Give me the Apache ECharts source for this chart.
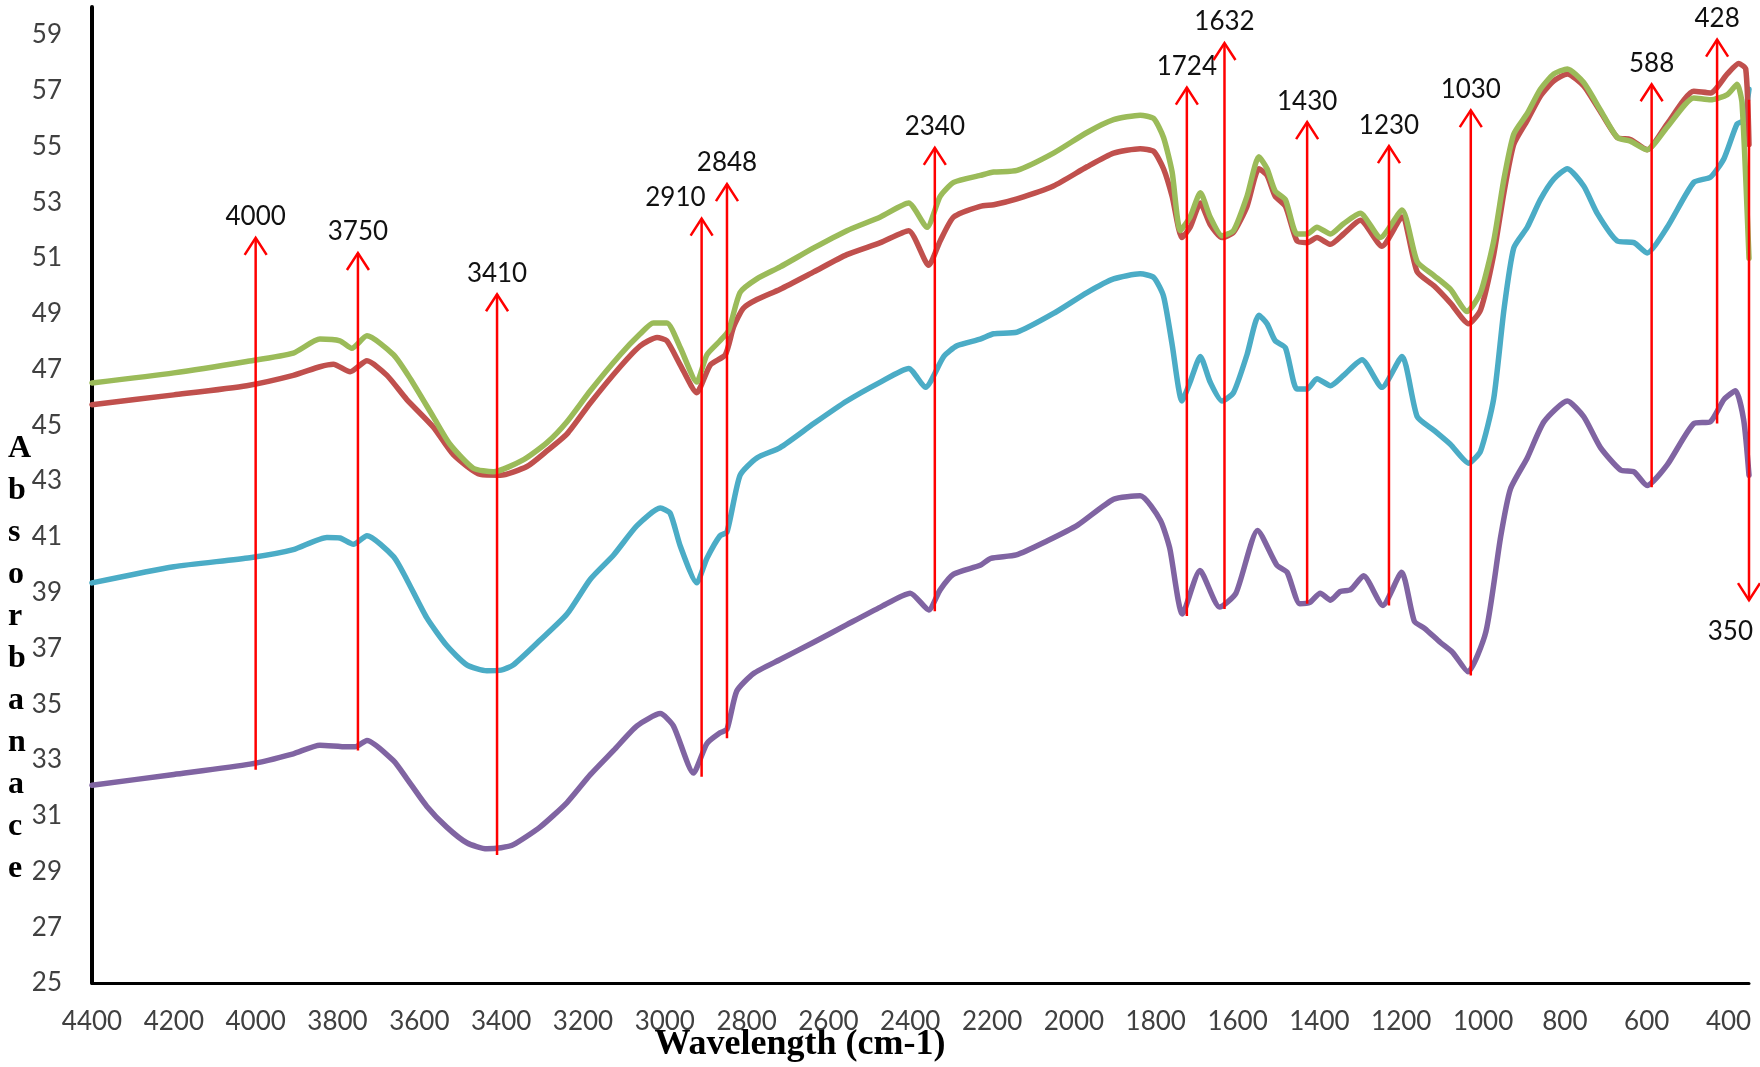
<!DOCTYPE html>
<html>
<head>
<meta charset="utf-8">
<title>FTIR absorbance spectra</title>
<script src="https://cdn.jsdelivr.net/npm/echarts@6/dist/echarts.min.js"></script>
<style>
  html, body { margin: 0; padding: 0; background: #ffffff; }
  #chart { width: 1760px; height: 1067px; }
</style>
</head>
<body>
<div id="chart"></div>
<script>
// Absorbance traces: [wavenumber (cm-1), absorbance]
const greenTrace = [[4400,46.52],[4200,46.88],[4022,47.29],[3908,47.59],[3843,48.09],[3794,48.03],[3765,47.76],[3728,48.21],[3663,47.53],[3622,46.67],[3566,45.31],[3525,44.32],[3468,43.46],[3419,43.33],[3345,43.77],[3288,44.38],[3239,45.13],[3182,46.24],[3109,47.53],[3060,48.28],[3028,48.67],[2995,48.67],[2962,47.78],[2922,46.55],[2897,47.53],[2865,48.03],[2844,48.40],[2816,49.76],[2775,50.25],[2718,50.68],[2636,51.36],[2555,51.98],[2473,52.47],[2404,52.97],[2359,52.10],[2327,53.21],[2294,53.71],[2229,53.96],[2196,54.08],[2139,54.14],[2050,54.76],[1968,55.50],[1903,55.96],[1838,56.12],[1805,56.00],[1781,55.32],[1760,54.08],[1740,51.98],[1716,52.47],[1691,53.34],[1667,52.47],[1638,51.80],[1610,51.98],[1577,53.21],[1548,54.63],[1528,54.20],[1508,53.40],[1483,53.09],[1455,51.86],[1430,51.86],[1406,52.10],[1373,51.86],[1341,52.23],[1300,52.60],[1251,51.73],[1198,52.72],[1161,50.87],[1120,50.37],[1080,49.88],[1039,49.08],[1006,49.76],[974,51.61],[949,53.83],[925,55.44],[892,56.18],[860,57.05],[827,57.60],[794,57.78],[754,57.29],[713,56.30],[672,55.32],[640,55.19],[599,54.88],[550,55.69],[485,56.74],[444,56.67],[403,56.86],[379,57.23],[367,56.55],[350,50.99]];

const redTrace = [[4400,45.74],[4200,46.09],[4022,46.42],[3908,46.79],[3843,47.10],[3810,47.19],[3769,46.92],[3728,47.31],[3679,46.79],[3631,45.93],[3566,44.94],[3517,43.95],[3451,43.24],[3402,43.21],[3337,43.52],[3288,44.08],[3239,44.69],[3182,45.80],[3109,47.10],[3060,47.85],[3019,48.15],[2995,48.03],[2962,47.16],[2922,46.17],[2889,47.16],[2852,47.53],[2832,48.52],[2808,49.20],[2775,49.51],[2718,49.88],[2636,50.50],[2555,51.12],[2473,51.55],[2404,51.98],[2355,50.74],[2327,51.61],[2294,52.47],[2229,52.85],[2196,52.91],[2139,53.12],[2050,53.58],[1968,54.27],[1903,54.76],[1838,54.92],[1805,54.82],[1781,54.20],[1760,53.21],[1736,51.73],[1716,52.10],[1691,52.97],[1667,52.20],[1638,51.73],[1610,51.92],[1577,52.85],[1548,54.20],[1528,53.96],[1508,53.21],[1483,52.85],[1455,51.61],[1430,51.55],[1406,51.73],[1373,51.49],[1341,51.86],[1300,52.35],[1247,51.42],[1198,52.47],[1161,50.50],[1120,50.00],[1080,49.39],[1035,48.64],[1006,49.14],[974,51.12],[949,53.34],[925,55.07],[892,55.93],[860,56.80],[827,57.35],[794,57.60],[754,57.17],[713,56.24],[672,55.32],[640,55.25],[599,54.88],[550,55.81],[485,56.98],[444,56.92],[403,57.60],[375,57.97],[358,57.78],[350,55.07]];

const blueTrace = [[4400,39.35],[4200,39.93],[4014,40.25],[3908,40.54],[3826,40.98],[3794,40.96],[3761,40.73],[3728,41.04],[3663,40.29],[3631,39.48],[3582,38.10],[3533,37.10],[3484,36.41],[3435,36.20],[3400,36.22],[3370,36.41],[3305,37.29],[3239,38.23],[3182,39.48],[3125,40.35],[3068,41.40],[3011,42.03],[2987,41.85],[2962,40.66],[2922,39.35],[2897,40.23],[2865,41.04],[2848,41.17],[2816,43.21],[2775,43.83],[2718,44.20],[2636,45.06],[2555,45.87],[2473,46.55],[2404,47.04],[2363,46.36],[2318,47.47],[2286,47.85],[2229,48.09],[2196,48.28],[2139,48.34],[2050,49.01],[1968,49.76],[1903,50.25],[1838,50.43],[1805,50.30],[1781,49.63],[1760,47.90],[1736,45.87],[1716,46.55],[1691,47.47],[1667,46.55],[1638,45.87],[1610,46.17],[1577,47.53],[1548,48.95],[1528,48.64],[1508,48.03],[1483,47.78],[1455,46.30],[1430,46.30],[1406,46.67],[1373,46.42],[1341,46.79],[1296,47.35],[1247,46.36],[1198,47.47],[1161,45.31],[1120,44.82],[1080,44.32],[1035,43.64],[1006,44.08],[974,45.95],[949,49.14],[925,51.36],[892,52.10],[860,53.09],[827,53.83],[794,54.20],[754,53.58],[721,52.60],[672,51.61],[631,51.55],[599,51.18],[550,52.10],[485,53.71],[444,53.90],[411,54.57],[379,55.81],[363,55.93],[350,57.05]];

const purpleTrace = [[4400,32.09],[4200,32.48],[4014,32.85],[3908,33.22],[3843,33.53],[3777,33.47],[3757,33.47],[3728,33.70],[3663,32.97],[3631,32.34],[3582,31.34],[3533,30.59],[3484,30.03],[3435,29.81],[3400,29.85],[3370,29.96],[3305,30.59],[3239,31.47],[3182,32.47],[3125,33.34],[3068,34.22],[3011,34.66],[2979,34.22],[2930,32.53],[2897,33.59],[2865,33.97],[2848,34.10],[2824,35.47],[2783,36.10],[2718,36.60],[2636,37.22],[2555,37.85],[2473,38.48],[2400,38.98],[2355,38.38],[2327,39.10],[2294,39.66],[2229,39.98],[2203,40.23],[2141,40.35],[2066,40.85],[1991,41.42],[1903,42.35],[1838,42.47],[1789,41.60],[1766,40.60],[1735,38.23],[1692,39.79],[1644,38.48],[1604,38.98],[1551,41.23],[1504,39.98],[1479,39.73],[1448,38.60],[1423,38.65],[1398,38.98],[1373,38.73],[1349,39.04],[1324,39.10],[1292,39.60],[1245,38.54],[1199,39.73],[1168,37.97],[1143,37.72],[1105,37.22],[1074,36.85],[1037,36.16],[993,37.60],[957,41.00],[933,42.72],[892,43.83],[851,45.13],[794,45.87],[754,45.31],[713,44.20],[664,43.40],[631,43.33],[599,42.84],[550,43.58],[485,45.06],[444,45.13],[411,45.93],[383,46.24],[363,45.19],[350,43.21]];

// Band markers: [wavenumber, tail absorbance, head absorbance]
const peakArrows = [[4000,32.65,51.72],[3750,33.34,51.18],[3410,29.59,49.70],[2910,32.40,52.41],[2848,33.78,53.65],[2340,38.33,54.95],[1724,38.16,57.11],[1632,38.41,58.71],[1430,38.60,55.87],[1230,38.54,55.01],[1030,36.03,56.30],[588,42.78,57.23],[428,45.06,58.83],[350,56.67,38.73]];

// Axis ranges and tick steps (ticks are counted from the axis minimum)
const xRange = [350, 4400];
const xTickStep = 50;
const xLabelStep = 200;
const yRange = [25, 60];
const yTickStep = 1;
const yLabelStep = 2;

const yTitle = 'Absorbanace';
const xTitle = 'Wavelength (cm-1)';

const tickFont = 'Lato, "Open Sans", sans-serif';
const titleFont = '"Liberation Serif", "DejaVu Serif", serif';

const chart = echarts.init(document.getElementById('chart'), null, { renderer: 'canvas' });

function traceSeries(data, color, z) {
  return {
    type: 'line',
    data: data,
    symbol: 'none',
    showSymbol: false,
    smooth: 0.2,
    z: z,
    silent: true,
    itemStyle: { color: color },
    lineStyle: { color: color, width: 5.5, join: 'round', cap: 'round' }
  };
}

// Pixel gap below which a marker label is pushed to the left of its arrow
const crowdedGap = 30;

const option = {
  animation: false,
  backgroundColor: '#ffffff',
  grid: { left: 92, right: 11, top: 7, bottom: 84, containLabel: false, outerBoundsMode: 'none' },
  xAxis: {
    type: 'value',
    inverse: true,
    min: xRange[0],
    max: xRange[1],
    interval: xTickStep,
    axisLine: { show: true, onZero: false, lineStyle: { color: '#000000', width: 3 } },
    axisTick: { show: false },
    splitLine: { show: false },
    axisLabel: {
      margin: 26,
      color: '#404040',
      fontSize: 26,
      fontFamily: tickFont,
      formatter: v => (v % xLabelStep === 0 ? String(v) : '')
    }
  },
  yAxis: {
    type: 'value',
    min: yRange[0],
    max: yRange[1],
    interval: yTickStep,
    axisLine: { show: true, onZero: false, lineStyle: { color: '#000000', width: 4 } },
    axisTick: { show: false },
    splitLine: { show: false },
    axisLabel: {
      margin: 30,
      color: '#404040',
      fontSize: 26,
      fontFamily: tickFont,
      formatter: v => ((v - yRange[0]) % yLabelStep === 0 ? String(v) : '')
    }
  },
  graphic: [
    {
      type: 'text',
      left: 8,
      top: 428,
      style: {
        text: yTitle.split('').join('\n'),
        fill: '#000000',
        font: 'bold 32px ' + titleFont,
        lineHeight: 42,
        align: 'center'
      }
    },
    {
      type: 'text',
      x: 800,
      y: 1045,
      style: {
        text: xTitle,
        fill: '#000000',
        font: 'bold 36px ' + titleFont,
        align: 'center',
        verticalAlign: 'middle'
      }
    }
  ],
  series: [
    traceSeries(purpleTrace, '#8064A2', 2),
    traceSeries(blueTrace, '#4BACC6', 3),
    traceSeries(redTrace, '#C0504D', 4),
    traceSeries(greenTrace, '#9BBB59', 5),
    {
      type: 'custom',
      coordinateSystem: 'cartesian2d',
      data: peakArrows,
      encode: { x: 0, y: [1, 2] },
      clip: false,
      silent: true,
      z: 10,
      renderItem: function (params, api) {
        const i = params.dataIndex;
        const wn = api.value(0);
        const tail = api.coord([wn, api.value(1)]);
        const head = api.coord([wn, api.value(2)]);
        const up = head[1] < tail[1];
        const s = up ? 1 : -1;
        const wing = [
          [head[0] - 11, head[1] + s * 17],
          [head[0], head[1]],
          [head[0] + 11, head[1] + s * 17]
        ];
        // Label goes left of the arrow when the next arrow is too close or it points down
        let crowded = !up;
        if (i + 1 < peakArrows.length) {
          const next = api.coord([peakArrows[i + 1][0], api.value(2)]);
          if (Math.abs(next[0] - head[0]) < crowdedGap) crowded = true;
        }
        return {
          type: 'group',
          children: [
            {
              type: 'line',
              shape: { x1: tail[0], y1: tail[1], x2: head[0], y2: head[1] },
              style: { stroke: '#ff0000', lineWidth: 2.5 }
            },
            {
              type: 'polyline',
              shape: { points: wing },
              style: { stroke: '#ff0000', lineWidth: 2.5, fill: null }
            },
            {
              type: 'text',
              style: {
                text: String(wn),
                x: crowded ? head[0] + 4 : head[0],
                y: up ? head[1] - 21 : head[1] + 31,
                align: crowded ? 'right' : 'center',
                verticalAlign: 'middle',
                fill: '#111111',
                fontSize: 26,
                fontFamily: tickFont
              }
            }
          ]
        };
      }
    }
  ]
};

chart.setOption(option);
</script>
</body>
</html>
